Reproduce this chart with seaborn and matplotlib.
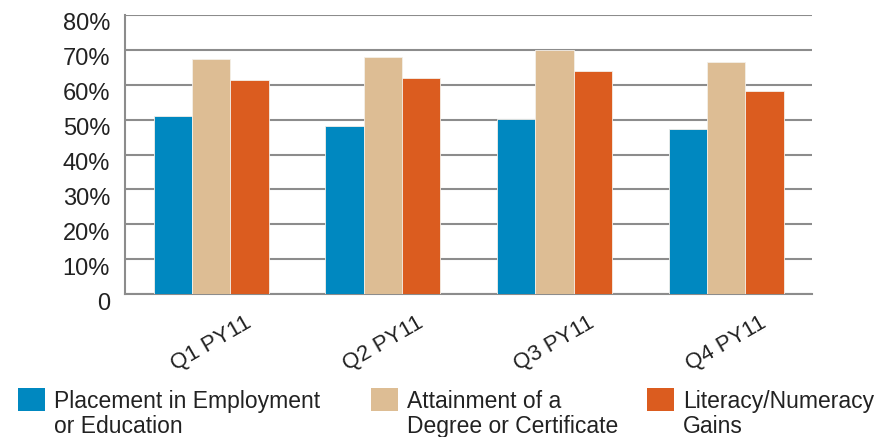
import matplotlib
matplotlib.use("Agg")
import matplotlib.pyplot as plt
from matplotlib.patches import Rectangle
from matplotlib.transforms import ScaledTranslation
import pandas as pd
import seaborn as sns

quarters = ["Q1 PY11", "Q2 PY11", "Q3 PY11", "Q4 PY11"]
series = [
    "Placement in Employment\nor Education",
    "Attainment of a\nDegree or Certificate",
    "Literacy/Numeracy\nGains",
]
placement = [51.1, 48.1, 50.3, 47.2]
attainment = [67.4, 67.9, 70.0, 66.4]
literacy = [61.3, 61.8, 63.8, 58.3]
colors = ["#0088c0", "#ddbd94", "#db5c1f"]

rows = []
for name, vals in zip(series, [placement, attainment, literacy]):
    for q, v in zip(quarters, vals):
        rows.append({"quarter": q, "series": name, "value": v})
df = pd.DataFrame(rows)

sns.set_style("white")
plt.rcParams["font.family"] = ["Liberation Sans", "DejaVu Sans"]

W, H = 890, 437
fig = plt.figure(figsize=(W / 100, H / 100), dpi=100)
ax = fig.add_axes([125.3 / W, 1 - 294 / H, (812 - 125.3) / W, (294 - 15) / H])

sns.barplot(data=df, x="quarter", y="value", hue="series", palette=colors,
            width=0.67, gap=0, saturation=1, ax=ax, zorder=3, legend=False,
            edgecolor="#f4efe8", linewidth=0.6)

ax.set_ylim(0, 80)
ax.set_xlim(-0.5, 3.5)
ax.set_yticks(range(0, 81, 10))
ax.set_yticklabels(["0"] + [f"{v}%" for v in range(10, 81, 10)])
ax.grid(axis="y", color="#8c8c8c", linewidth=1.5, zorder=0)
ax.set_axisbelow(True)

for s in ["top", "right"]:
    ax.spines[s].set_visible(False)
for s in ["left", "bottom"]:
    ax.spines[s].set_color("#8c8c8c")
    ax.spines[s].set_linewidth(1.5)

ax.set_xlabel("")
ax.set_ylabel("")
ax.set_xticks(range(4))
ax.set_xticklabels(quarters, rotation=30, ha="center", fontsize=16,
                   color="#222222")
ax.set_xticks([-0.5, 0.5, 1.5, 2.5, 3.5], minor=True)
ax.tick_params(axis="x", which="major", length=0, pad=13)
ax.tick_params(axis="x", which="minor", length=5, width=1.5, color="#8c8c8c",
               direction="out")
ax.tick_params(axis="y", length=0, pad=11, labelsize=17, labelcolor="#222222")

# y labels sit a little below their gridlines in the original
shift = ScaledTranslation(0, -7 / 100, fig.dpi_scale_trans)
for lbl in ax.get_yticklabels():
    lbl.set_transform(lbl.get_transform() + shift)

# legend along the bottom: swatch next to the first line of each label
legend_x = [18, 371, 647]
for lab, col, x in zip(series, colors, legend_x):
    fig.patches.append(Rectangle((x / W, 1 - 411 / H), 27 / W, 23 / H,
                                 transform=fig.transFigure, facecolor=col,
                                 edgecolor="none"))
    fig.text((x + 36) / W, 1 - 390 / H, lab, ha="left", va="top",
             fontsize=16.5, color="#222222", linespacing=1.12)

fig.savefig("out.png", dpi=100)
